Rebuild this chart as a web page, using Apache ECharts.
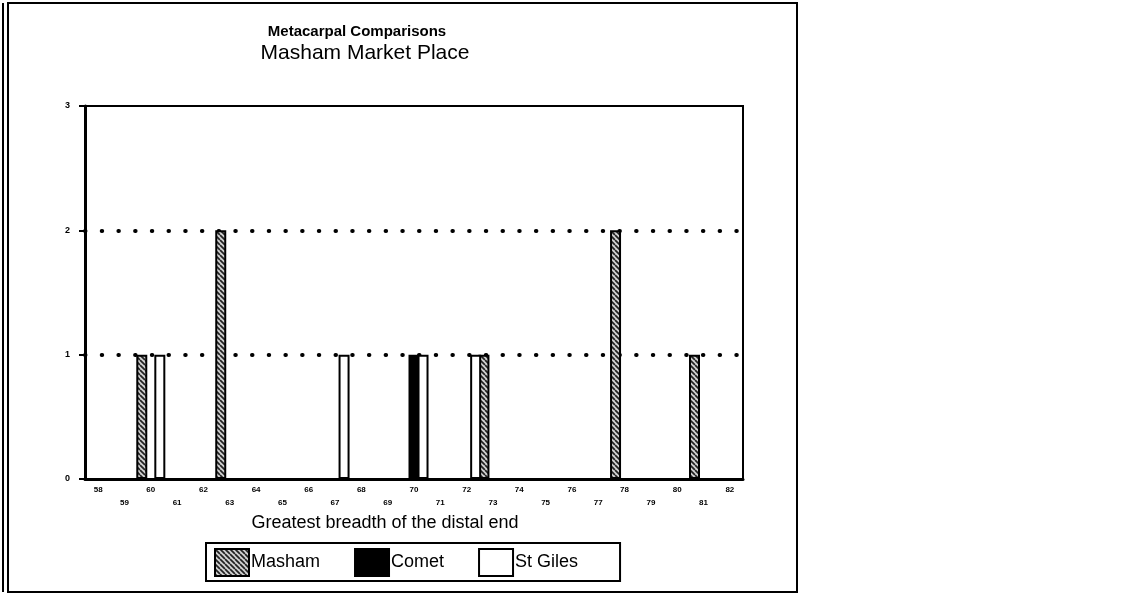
<!DOCTYPE html>
<html><head><meta charset="utf-8">
<script src="https://cdn.jsdelivr.net/npm/echarts@6/dist/echarts.min.js"></script>
<style>html,body{margin:0;padding:0;background:#fff}#c{width:1127px;height:594px}</style>
</head><body><div id="c"></div>
<script>
const categories = ['58','59','60','61','62','63','64','65','66','67','68','69','70','71','72','73','74','75','76','77','78','79','80','81','82'];
const masham   = [0,0,1,0,0,2,0,0,0,0,0,0,0,0,0,1,0,0,0,0,2,0,0,1,0];
const comet    = [0,0,0,0,0,0,0,0,0,0,0,0,1,0,0,0,0,0,0,0,0,0,0,0,0];
const stGiles  = [0,0,1,0,0,0,0,0,0,1,0,0,1,0,1,0,0,0,0,0,0,0,0,0,0];
const yTicks = [0,1,2,3];
const gridLevels = [1,2];

function hatch(){
  const s = 5, cv = document.createElement('canvas');
  cv.width = s; cv.height = s;
  const g = cv.getContext('2d');
  g.fillStyle = '#cfcfcf'; g.fillRect(0,0,s,s);
  g.strokeStyle = '#222'; g.lineWidth = 1.7;
  g.beginPath();
  for (const o of [-s,0,s]) { g.moveTo(o,0); g.lineTo(o+s,s); }
  g.stroke();
  return {image: cv, repeat: 'repeat'};
}
const FONT = "'Liberation Sans', Arial, sans-serif";
const chart = echarts.init(document.getElementById('c'));
const bw = 11, bg = '-18%';
chart.setOption({
  animation: false,
  backgroundColor: '#fff',
  textStyle: {fontFamily: FONT, color: '#000'},
  title: [
    {text: 'Metacarpal Comparisons', left: 352, top: 19, textAlign: 'center',
     textStyle: {fontFamily: FONT, fontSize: 15, fontWeight: 'bold', color: '#000'}},
    {text: 'Masham Market Place', left: 360, top: 38, textAlign: 'center',
     textStyle: {fontFamily: FONT, fontSize: 21, fontWeight: 'normal', color: '#000'}}
  ],
  legend: {
    left: 206, top: 543,
    icon: 'rect',
    itemWidth: 34, itemHeight: 27, itemGap: 34,
    borderColor: '#000', borderWidth: 2, padding: [5, 42, 4, 8],
    textStyle: {fontFamily: FONT, fontSize: 18, color: '#000', padding: [0,0,0,-3]},
    data: ['Masham', 'Comet', 'St Giles']
  },
  grid: {left: 85, right: 384, top: 106, bottom: 115, show: true, borderColor: '#000', borderWidth: 2, backgroundColor: 'transparent'},
  xAxis: {
    type: 'category', data: categories,
    name: 'Greatest breadth of the distal end', nameLocation: 'middle', nameGap: 31,
    nameTextStyle: {fontFamily: FONT, fontSize: 18, color: '#000', padding: [0, 58, 0, 0]},
    axisLine: {lineStyle: {color: '#000', width: 3}},
    axisTick: {interval: 0, length: 5, lineStyle: {color: '#000', width: 2}},
    axisLabel: {interval: 0, margin: 4, fontSize: 8, fontWeight: 'bold', color: '#000', lineHeight: 13,
      formatter: (v, i) => (i % 2 ? '\n' + v : v)},
    splitLine: {show: false}
  },
  yAxis: {
    type: 'value', min: yTicks[0], max: yTicks[yTicks.length-1], interval: 1,
    axisLine: {show: true, lineStyle: {color: '#000', width: 3}},
    axisTick: {show: true, length: 6, lineStyle: {color: '#000', width: 2}},
    axisLabel: {margin: 15, fontSize: 9, fontWeight: 'bold', color: '#000'},
    splitLine: {show: false}
  },
  series: [
    {name: 'Masham', type: 'bar', data: masham, barWidth: bw, barGap: bg,
     itemStyle: {color: hatch(), borderColor: '#000', borderWidth: 2},
     markLine: {silent: true, symbol: 'none', label: {show: false}, z: 1,
       lineStyle: {color: '#000', width: 4, type: [0.5, 16.2], cap: 'round'},
       data: gridLevels.map(v => ({yAxis: v}))}},
    {name: 'Comet', type: 'bar', data: comet, barWidth: bw, barGap: bg,
     itemStyle: {color: '#000', borderColor: '#000', borderWidth: 2}},
    {name: 'St Giles', type: 'bar', data: stGiles, barWidth: bw, barGap: bg,
     itemStyle: {color: '#fff', borderColor: '#000', borderWidth: 2}}
  ],
  graphic: [
    {type: 'rect', shape: {x: 8, y: 3, width: 789, height: 589}, style: {fill: 'none', stroke: '#000', lineWidth: 2}, silent: true},
    {type: 'line', shape: {x1: 3, y1: 3, x2: 3, y2: 592}, style: {stroke: '#000', lineWidth: 2}, silent: true}
  ]
});
</script></body></html>
